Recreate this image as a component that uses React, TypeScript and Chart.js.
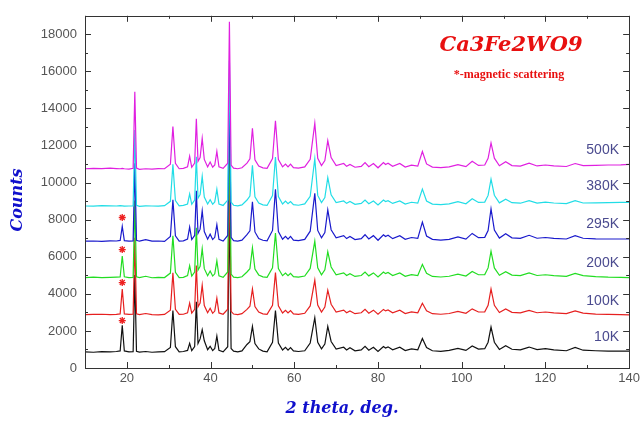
import React, { useEffect, useRef } from 'react';
import { Chart, registerables } from 'chart.js';

Chart.register(...registerables);

// 2-theta positions (deg.) shared by all patterns
const theta = [
  10, 12, 14, 16, 17.5, 18.4, 18.9, 19.4, 20.5, 21.5,
  21.9, 22.3, 23, 24.5, 26, 27.5, 29, 30.4, 31.0, 31.6,
  32.5, 33.5, 34.5, 35.0, 35.5, 36.2, 36.6, 37.0, 37.5, 38.0,
  38.5, 39.3, 39.9, 40.5, 41.0, 41.5, 42.0, 43.0, 44.1, 44.5,
  44.9, 45.5, 46.5, 47.5, 48.7, 49.4, 50.0, 50.6, 51.5, 52.5,
  53.5, 54.8, 55.5, 56.2, 57.2, 57.9, 58.5, 59.1, 59.8, 61,
  62.5, 63.8, 64.9, 65.6, 66.5, 67.3, 68.0, 68.8, 70, 71.8,
  72.5, 73.3, 74.5, 76, 76.9, 77.8, 78.9, 80, 81.3, 81.8,
  82.4, 83.5, 85.2, 86.5, 88.0, 89.5, 90.6, 91.6, 93, 95,
  97, 99.1, 101, 102.5, 104, 105.5, 106.3, 107.0, 107.8, 109,
  110.5, 112, 114, 116.1, 118, 120, 122, 125, 127.1, 129,
  132, 135, 138, 140,
];

// temperatures, vertical offsets (counts) of each pattern
const temps = ['10K', '100K', '200K', '295K', '380K', '500K'];
const offsets = [870, 2880, 4880, 6840, 8740, 10750];
const colors = ['#111111', '#e62020', '#22dd22', '#1a1acc', '#22dde6', '#e020e0'];

// counts above each pattern's offset
const net10K = [
  0, -20, 10, 0, 20, 50, 1430, 50, 0, 10,
  4150, 30, -10, 20, -20, 0, 10, 240, 2230, 280,
  0, 20, 80, 460, 70, 290, 2700, 450, 700, 1200,
  600, 120, 300, 70, 180, 850, 80, 0, 280, 7900,
  180, 40, 0, 50, 400, 550, 1370, 450, 160, 40,
  0, 520, 2230, 480, 100, 240, 90, 230, 50, 20,
  60, 480, 1840, 520, 160, 420, 1370, 560, 150, 250,
  100, 220, 60, 110, 300, 90, 250, 20, 290, 210,
  270, 110, 250, 70, 160, 110, 720, 230, 60, 30,
  80, 190, 80, 320, 150, 170, 520, 1340, 520, 130,
  330, 140, 110, 260, 120, 170, 110, 60, 240, 90,
  60, 40, 40, 40,
];
const net100K = [
  0, 10, 20, 0, 10, 40, 1380, 40, 10, 20,
  4150, 40, 0, 60, 0, -10, 10, 240, 2260, 290,
  10, 20, 100, 620, 80, 290, 2650, 420, 620, 1580,
  490, 100, 340, 70, 190, 880, 90, 20, 290, 7900,
  180, 30, 0, 50, 280, 450, 1380, 430, 140, 40,
  10, 500, 2270, 470, 90, 230, 90, 220, 40, 10,
  70, 470, 1860, 520, 140, 410, 1320, 560, 140, 240,
  100, 200, 50, 100, 280, 80, 240, 20, 280, 200,
  250, 100, 240, 60, 150, 100, 610, 210, 50, 20,
  60, 170, 70, 310, 140, 150, 500, 1380, 500, 110,
  300, 120, 90, 230, 100, 140, 90, 50, 200, 80,
  30, 10, 0, -10,
];
const net200K = [
  0, 20, 0, 10, 20, 30, 1160, 40, 0, 10,
  4150, 40, 0, 70, -10, 10, 0, 240, 2250, 280,
  0, 10, 110, 640, 80, 300, 2680, 400, 600, 1560,
  480, 100, 350, 80, 200, 900, 90, 10, 300, 7900,
  190, 20, 0, 40, 300, 480, 1600, 460, 140, 40,
  10, 520, 2400, 490, 100, 240, 100, 230, 50, 20,
  80, 490, 1960, 530, 150, 420, 1390, 570, 150, 250,
  110, 210, 60, 110, 300, 90, 250, 30, 300, 210,
  270, 110, 250, 70, 160, 110, 710, 230, 60, 30,
  70, 180, 80, 330, 150, 160, 520, 1420, 520, 120,
  320, 130, 100, 250, 110, 150, 100, 60, 220, 100,
  50, 20, 10, 0,
];
const net295K = [
  0, 10, -10, 20, 10, 40, 800, 30, 0, 20,
  4200, 50, 0, 80, 0, 10, -10, 250, 2230, 290,
  0, 20, 120, 760, 90, 310, 2720, 420, 650, 1640,
  520, 110, 380, 90, 210, 890, 100, 10, 310, 7950,
  210, 30, 10, 60, 350, 560, 2130, 500, 150, 50,
  20, 580, 2800, 520, 110, 260, 110, 260, 60, 30,
  100, 540, 2580, 580, 180, 470, 1690, 620, 180, 300,
  140, 250, 90, 140, 350, 120, 300, 50, 350, 250,
  320, 140, 300, 100, 200, 150, 1030, 280, 100, 60,
  100, 230, 110, 420, 190, 210, 580, 1740, 600, 170,
  400, 180, 150, 320, 160, 200, 150, 120, 300, 160,
  130, 120, 120, 120,
];
const net380K = [
  0, -10, 20, 10, 0, 20, 10, -10, 0, 10,
  4100, 30, -20, 10, 0, -10, 20, 250, 2250, 290,
  10, 30, 110, 650, 90, 320, 2650, 420, 620, 1600,
  480, 110, 340, 90, 220, 900, 110, 30, 320, 7850,
  210, 40, 10, 60, 320, 540, 2190, 490, 160, 60,
  30, 560, 2640, 510, 110, 260, 120, 240, 70, 40,
  110, 520, 2550, 570, 180, 450, 1530, 600, 180, 270,
  140, 240, 90, 140, 320, 120, 270, 60, 320, 240,
  290, 140, 270, 100, 200, 150, 910, 270, 100, 70,
  110, 230, 120, 390, 190, 210, 570, 1450, 580, 170,
  370, 180, 150, 290, 160, 210, 160, 130, 290, 160,
  170, 180, 190, 200,
];
const net500K = [
  0, 20, 10, 30, 10, 0, 20, 0, -20, 20,
  4150, 40, -30, 0, -20, 10, 0, 240, 2270, 290,
  0, 20, 100, 680, 80, 300, 2700, 400, 600, 1640,
  500, 100, 360, 80, 200, 930, 100, 20, 300, 7930,
  200, 30, 0, 50, 300, 530, 2180, 480, 150, 50,
  20, 550, 2590, 500, 100, 250, 100, 250, 60, 30,
  100, 510, 2460, 560, 170, 440, 1520, 600, 170, 280,
  130, 230, 80, 130, 330, 110, 280, 50, 330, 230,
  300, 130, 280, 90, 190, 140, 930, 260, 90, 60,
  100, 220, 110, 400, 180, 200, 560, 1390, 570, 160,
  380, 170, 140, 300, 150, 200, 150, 120, 280, 170,
  180, 200, 210, 240,
];
const nets = [net10K, net100K, net200K, net295K, net380K, net500K];

// magnetic scattering markers
const starTheta = [18.9, 18.9, 18.9, 18.9];
const starCounts = [2560, 4610, 6390, 8120];

// curve labels (right side)
const labelCounts = [1650, 3600, 5650, 7750, 9800, 11750];

const titleText = 'Ca3Fe2WO9';
const subtitleText = '*-magnetic scattering';
const xTitle = '2 theta, deg.';
const yTitle = 'Counts';

const X_MIN = 10, X_MAX = 140, Y_MIN = 0, Y_MAX = 19000;

const decoPlugin = {
  id: 'deco',
  afterDatasetsDraw(chart: any) {
    const { ctx, scales } = chart;
    const y = scales.y;
    ctx.save();
    ctx.fillStyle = '#4b4b8f';
    ctx.font = "14px 'Liberation Sans', Arial, sans-serif";
    ctx.textAlign = 'right';
    ctx.textBaseline = 'middle';
    temps.forEach((t, i) => {
      ctx.fillText(t, 619, y.getPixelForValue(labelCounts[i]));
    });
    ctx.restore();
  },
  afterDraw(chart: any) {
    const { ctx, chartArea: a, scales } = chart;
    const x = scales.x, y = scales.y;
    ctx.save();
    ctx.strokeStyle = '#333';
    ctx.lineWidth = 1;
    ctx.strokeRect(Math.round(a.left) + 0.5, Math.round(a.top) + 0.5,
      Math.round(a.right - a.left), Math.round(a.bottom - a.top));
    ctx.beginPath();
    for (let v = X_MIN; v <= X_MAX; v += 10) {
      const px = Math.round(x.getPixelForValue(v)) + 0.5;
      const len = v % 20 === 0 ? 6 : 3;
      ctx.moveTo(px, a.bottom); ctx.lineTo(px, a.bottom - len);
      ctx.moveTo(px, a.top); ctx.lineTo(px, a.top + len);
    }
    for (let v = Y_MIN; v <= Y_MAX; v += 1000) {
      const py = Math.round(y.getPixelForValue(v)) + 0.5;
      const len = v % 2000 === 0 ? 6 : 3;
      ctx.moveTo(a.left, py); ctx.lineTo(a.left + len, py);
      ctx.moveTo(a.right, py); ctx.lineTo(a.right - len, py);
    }
    ctx.stroke();

    // title
    ctx.fillStyle = '#e81010';
    ctx.textAlign = 'center';
    ctx.textBaseline = 'middle';
    ctx.font = "bold italic 21px 'DejaVu Serif', serif";
    ctx.fillText(titleText, 511, 46);
    ctx.font = "bold 12px 'Liberation Serif', serif";
    ctx.fillText(subtitleText, 509, 75);

    // axis titles
    ctx.fillStyle = '#1010cc';
    ctx.font = "bold italic 16px 'DejaVu Serif', serif";
    ctx.fillText(xTitle, 342, 409);
    ctx.translate(18, 200);
    ctx.rotate(-Math.PI / 2);
    ctx.fillText(yTitle, 0, 0);
    ctx.restore();
  },
};

export default function App() {
  const canvasRef = useRef<HTMLCanvasElement | null>(null);

  useEffect(() => {
    document.body.style.margin = '0';
    const canvas = canvasRef.current;
    if (!canvas) return;

    const lineSets = temps.map((t, k) => ({
      type: 'line' as const,
      label: t,
      data: theta.map((tv, i) => ({ x: tv, y: offsets[k] + nets[k][i] })),
      borderColor: colors[k],
      backgroundColor: colors[k],
      borderWidth: 1.2,
      pointRadius: 0,
      tension: 0,
      fill: false,
    })).reverse();

    const starSet = {
      type: 'scatter' as const,
      label: 'magnetic',
      data: starTheta.map((t, i) => ({ x: t, y: starCounts[i] })),
      pointStyle: 'star',
      pointRadius: 3.5,
      borderColor: '#ee2020',
      backgroundColor: '#ee2020',
      borderWidth: 1.3,
      showLine: false,
    };

    const tickFont = { family: "'Liberation Sans', Arial, sans-serif", size: 13 };

    const chart = new Chart(canvas, {
      type: 'line',
      data: { datasets: [starSet as any, ...lineSets] },
      options: {
        responsive: false,
        animation: false,
        maintainAspectRatio: false,
        layout: { padding: { left: 0, top: 13, right: 13, bottom: 0 } },
        plugins: { legend: { display: false }, tooltip: { enabled: false }, title: { display: false } },
        scales: {
          x: {
            type: 'linear',
            min: X_MIN,
            max: X_MAX,
            grid: { display: false, drawTicks: false },
            border: { display: false },
            ticks: {
              stepSize: 10,
              autoSkip: false,
              maxRotation: 0,
              minRotation: 0,
              padding: 3,
              color: '#555',
              font: tickFont,
              callback: (v: any) => (Number(v) % 20 === 0 ? String(v) : ''),
            },
            afterFit: (s: any) => { s.height = 56; },
          },
          y: {
            type: 'linear',
            min: Y_MIN,
            max: Y_MAX,
            grid: { display: false, drawTicks: false },
            border: { display: false },
            ticks: {
              stepSize: 1000,
              autoSkip: false,
              padding: 8,
              color: '#555',
              font: tickFont,
              callback: (v: any) => (Number(v) % 2000 === 0 ? String(v) : ''),
            },
            afterFit: (s: any) => { s.width = 85; },
          },
        },
      },
      plugins: [decoPlugin],
    });

    return () => chart.destroy();
  }, []);

  return (
    <div style={{ width: 643, height: 424 }}>
      <canvas ref={canvasRef} width={643} height={424} style={{ display: 'block' }} />
    </div>
  );
}
